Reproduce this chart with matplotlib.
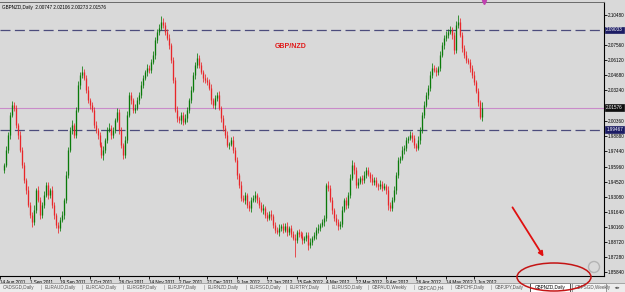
import numpy as np
import matplotlib.pyplot as plt
from matplotlib.patches import Ellipse, Rectangle

plt.rcParams['font.family'] = ['Liberation Sans', 'DejaVu Sans']

# ---- daily closes GBPNZD (one per bar) ----
closes = [
    1.9611, 1.9754, 1.9898, 2.0089, 2.0185, 2.0156, 1.9994, 1.9898, 1.9754, 1.9611,
    1.9467, 1.9372, 1.9228, 1.9132, 1.9065, 1.9180, 1.9372, 1.9276, 1.9132, 1.9228,
    1.9324, 1.9420, 1.9324, 1.9372, 1.9228, 1.9132, 1.9037, 1.9008, 1.9085, 1.9132,
    1.9276, 1.9515, 1.9754, 1.9946, 1.9994, 1.9898, 2.0137, 2.0377, 2.0472, 2.0501,
    2.0444, 2.0329, 2.0233, 2.0185, 2.0137, 1.9994, 1.9946, 1.9898, 1.9802, 1.9707,
    1.9754, 1.9850, 1.9946, 1.9965, 1.9898, 1.9946, 2.0042, 2.0118, 1.9946, 1.9802,
    1.9707, 1.9850, 2.0089, 2.0281, 2.0233, 2.0137, 2.0156, 2.0233, 2.0281, 2.0377,
    2.0444, 2.0501, 2.0539, 2.0520, 2.0597, 2.0664, 2.0807, 2.0884, 2.0922, 2.0979,
    2.0951, 2.0884, 2.0826, 2.0759, 2.0616, 2.0424, 2.0137, 2.0061, 2.0042, 2.0089,
    2.0022, 2.0061, 2.0137, 2.0233, 2.0329, 2.0472, 2.0568, 2.0635, 2.0568, 2.0501,
    2.0444, 2.0424, 2.0405, 2.0348, 2.0233, 2.0185, 2.0252, 2.0281, 2.0156, 2.0061,
    1.9965, 1.9898, 1.9802, 1.9815, 1.9850, 1.9754, 1.9659, 1.9515, 1.9420, 1.9295,
    1.9276, 1.9324, 1.9228, 1.9199, 1.9276, 1.9295, 1.9324, 1.9276, 1.9228, 1.9180,
    1.9199, 1.9132, 1.9104, 1.9142, 1.9123, 1.9037, 1.8989, 1.8970, 1.9008, 1.9027,
    1.8989, 1.9027, 1.8970, 1.9008, 1.8951, 1.8912, 1.8893, 1.8970, 1.8951, 1.8931,
    1.8893, 1.8912, 1.8941, 1.8845, 1.8874, 1.8912, 1.8941, 1.8989, 1.9008, 1.9037,
    1.9065, 1.9104, 1.9420, 1.9391, 1.9276, 1.9180, 1.9104, 1.9065, 1.9027, 1.9046,
    1.9180, 1.9276, 1.9228, 1.9324, 1.9487, 1.9611, 1.9563, 1.9420, 1.9448, 1.9487,
    1.9467, 1.9515, 1.9563, 1.9525, 1.9487, 1.9448, 1.9467, 1.9420, 1.9410, 1.9429,
    1.9391, 1.9410, 1.9372, 1.9228, 1.9199, 1.9276, 1.9372, 1.9515, 1.9659, 1.9678,
    1.9754, 1.9774, 1.9850, 1.9869, 1.9898, 1.9869, 1.9802, 1.9774, 1.9850, 1.9946,
    2.0089, 2.0185, 2.0281, 2.0348, 2.0472, 2.0539, 2.0520, 2.0501, 2.0539, 2.0664,
    2.0759, 2.0826, 2.0855, 2.0884, 2.0903, 2.0855, 2.0711, 2.0951, 2.0979, 2.0855,
    2.0731, 2.0664, 2.0616, 2.0597, 2.0539, 2.0472, 2.0405, 2.0320, 2.0210, 2.00747,
    2.01576]
first_open = 1.9560  # each later bar opens at the previous close

# wick lengths in pips above / below the candle body
wick_up = [
    20, 35, 25, 30, 40, 25, 30, 20, 35, 25, 30, 20, 40, 25, 30, 45, 20, 35, 25, 30,
    40, 25, 30, 20, 35, 25, 20, 30, 25, 35, 20, 40, 30, 25, 45, 20, 30, 35, 25, 60,
    30, 25, 35, 20, 30, 25, 40, 20, 30, 25, 35, 20, 30, 45, 25, 30, 20, 35, 25, 30,
    20, 35, 40, 25, 30, 20, 35, 25, 30, 40, 25, 20, 35, 30, 25, 40, 30, 25, 35, 60,
    40, 30, 25, 35, 20, 30, 25, 35, 20, 30, 25, 40, 30, 20, 35, 25, 30, 45, 25, 30,
    20, 35, 25, 30, 40, 20, 30, 25, 35, 20, 30, 25, 35, 20, 30, 40, 25, 30, 20, 35,
    25, 30, 20, 35, 25, 30, 40, 20, 30, 25, 35, 20, 30, 25, 40, 20, 30, 25, 35, 20,
    30, 25, 35, 20, 30, 25, 40, 20, 30, 25, 35, 20, 30, 25, 35, 20, 30, 25, 40, 20,
    30, 25, 20, 35, 25, 30, 20, 35, 25, 30, 40, 20, 30, 25, 35, 45, 30, 25, 35, 20,
    30, 40, 25, 30, 20, 35, 25, 30, 20, 35, 25, 30, 20, 35, 25, 30, 40, 25, 30, 20,
    35, 25, 30, 20, 35, 25, 30, 20, 35, 25, 30, 40, 25, 30, 35, 45, 25, 30, 20, 35,
    30, 25, 35, 30, 40, 30, 25, 35, 70, 40, 30, 25, 35, 20, 30, 25, 35, 20, 30, 25, 53]
wick_dn = [
    30, 20, 25, 35, 20, 30, 25, 40, 20, 30, 25, 35, 20, 30, 45, 25, 30, 20, 35, 25,
    30, 20, 35, 25, 30, 40, 25, 50, 30, 20, 35, 25, 30, 20, 35, 25, 30, 20, 35, 25,
    20, 30, 25, 35, 20, 30, 25, 40, 20, 30, 45, 25, 30, 20, 35, 25, 30, 20, 35, 25,
    40, 25, 30, 20, 35, 25, 30, 20, 35, 25, 30, 20, 35, 25, 30, 20, 35, 25, 30, 20,
    25, 30, 20, 35, 25, 30, 20, 35, 25, 40, 30, 20, 35, 25, 30, 20, 35, 25, 30, 20,
    35, 25, 30, 20, 35, 25, 40, 30, 20, 35, 25, 30, 20, 35, 25, 30, 20, 35, 25, 30,
    20, 35, 25, 30, 40, 20, 35, 25, 30, 20, 35, 25, 30, 20, 35, 25, 30, 20, 35, 25,
    30, 20, 35, 25, 30, 20, 160, 25, 30, 20, 35, 25, 30, 45, 25, 30, 20, 35, 25, 30,
    20, 35, 25, 30, 20, 35, 25, 30, 40, 25, 30, 20, 35, 25, 30, 20, 35, 25, 30, 20,
    35, 25, 30, 20, 35, 25, 30, 20, 35, 25, 30, 20, 35, 45, 25, 30, 20, 35, 25, 30,
    20, 35, 25, 30, 20, 35, 25, 30, 20, 35, 25, 30, 20, 35, 25, 30, 20, 35, 25, 30,
    20, 35, 25, 30, 20, 35, 40, 25, 30, 20, 35, 25, 30, 20, 35, 25, 30, 20, 35, 25, 47]

level_hi = 2.09033
level_lo = 1.99467
bid = 2.01576
header = 'GBPNZD,Daily  2.00747 2.02106 2.00273 2.01576'

date_labels = ['14 Aug 2011', '1 Sep 2011', '19 Sep 2011', '7 Oct 2011', '26 Oct 2011',
               '14 Nov 2011', '2 Dec 2011', '21 Dec 2011', '9 Jan 2012', '27 Jan 2012',
               '15 Feb 2012', '4 Mar 2012', '22 Mar 2012', '9 Apr 2012', '26 Apr 2012',
               '14 May 2012', '1 Jun 2012']
date_bars = [-2, 13, 28, 43, 58, 73, 88, 102, 117, 132, 147, 162, 177, 192, 207, 222, 236]

price_ticks = [2.10480, 2.07560, 2.06120, 2.04680, 2.03240, 2.00360, 1.98880, 1.97440,
               1.95960, 1.94520, 1.93080, 1.91640, 1.90160, 1.88720, 1.87280, 1.85840]

tabs = ['CADSGD,Daily', 'EURAUD,Daily', 'EURCAD,Daily', 'EURGBP,Daily', 'EURJPY,Daily',
        'EURNZD,Daily', 'EURSGD,Daily', 'EURTRY,Daily', 'EURUSD,Daily', 'GBPAUD,Weekly',
        'GBPCAD,H4', 'GBPCHF,Daily', 'GBPJPY,Daily', 'GBPNZD,Daily', 'GBPSGD,Weekly']
tab_x = [3, 45, 86, 127, 168, 208, 250, 290, 332, 372, 418, 455, 495, 535, 575]

assert len(closes) == len(wick_up) == len(wick_dn)

closes = np.array(closes)
opens = np.concatenate([[first_open], closes[:-1]])
highs = np.maximum(opens, closes) + np.array(wick_up) / 10000.0
lows = np.minimum(opens, closes) - np.array(wick_dn) / 10000.0
bars = np.arange(len(closes))
up = closes >= opens

W, H = 625, 292
BG = '#d9d9d9'
FS = 3.3
fig = plt.figure(figsize=(W / 100, H / 100), dpi=100)
fig.patch.set_facecolor(BG)

# main chart area: x 0..604 px, y 2..276 px
ax = fig.add_axes([0, 16 / H, 604 / W, 274 / H])
ax.set_facecolor(BG)
ax.set_xlim(-0.5, 301.5)
ax.set_ylim(1.8548, 2.1171)

# candles
col = np.where(up, '#0a7a0a', '#e8262a')
ax.vlines(bars, lows, highs, colors=col, lw=0.55, zorder=3)
ax.vlines(bars, opens, closes, colors=col, lw=0.95, zorder=3)

# levels
ax.axhline(level_hi, color='#4c4c7c', lw=0.9, dashes=(8, 3.5), zorder=2)
ax.axhline(level_lo, color='#4c4c7c', lw=0.9, dashes=(8, 3.5), zorder=2)
ax.axhline(bid, color='#c98bc9', lw=0.8, zorder=2)

# axes frame
ax.spines['left'].set_visible(False)
for s in ['right', 'bottom']:
    ax.spines[s].set_color('black')
    ax.spines[s].set_linewidth(0.8)
ax.spines['top'].set_color('#6a6a6a')
ax.spines['top'].set_linewidth(0.7)

ax.yaxis.tick_right()
ax.set_yticks(price_ticks)
ax.set_yticklabels(['%.5f' % p for p in price_ticks])
ax.tick_params(axis='y', labelsize=FS, length=2, width=0.6, pad=1, colors='black')
ax.set_xticks(date_bars)
ax.set_xticklabels(date_labels, ha='left')
ax.tick_params(axis='x', labelsize=FS, length=2, width=0.6, pad=1, colors='black')

# price boxes on the right axis
def price_box(val, fc):
    ax.annotate('%.5f' % val, xy=(1.0, val), xycoords=('axes fraction', 'data'),
                xytext=(1.6, 0), textcoords='offset points', va='center', ha='left',
                fontsize=FS, color='white', zorder=5, annotation_clip=False,
                bbox=dict(boxstyle='square,pad=0.2', fc=fc, ec=fc, lw=0.5))

price_box(level_hi, '#1c1c64')
price_box(bid, '#101010')
price_box(level_lo, '#1c1c64')

# chart shift marker
ax.plot([241], [2.1171], marker='v', ms=3, color='#c040b0', clip_on=False, zorder=6)

# header and label
fig.text(2 / W, 1 - 8 / H, header, fontsize=FS, va='center', ha='left', color='black')
fig.text(291 / W, 1 - 47 / H, 'GBP/NZD', fontsize=5, fontweight='bold', color='#e01818',
         ha='center', va='center')

# tab bar at the bottom
tab_ax = fig.add_axes([0, 0, 1, 9 / H])
tab_ax.set_xlim(0, W)
tab_ax.set_ylim(0, 9)
tab_ax.axis('off')
tab_ax.add_patch(Rectangle((0, 0), W, 9, fc='#ececec', ec='none'))
tab_ax.plot([0, W], [9, 9], color='#9a9a9a', lw=0.6)
tab_ax.add_patch(Rectangle((530, -1), 40, 10, fc='white', ec='#333333', lw=0.6))
tab_ax.add_patch(Rectangle((572, -1), 34, 10, fc='#f4f4f4', ec='#777777', lw=0.5))
for i, (t, x) in enumerate(zip(tabs, tab_x)):
    c = 'black' if t == 'GBPNZD,Daily' else '#555555'
    tab_ax.text(x, 4.5, t, fontsize=FS, color=c, va='center', ha='left')
    if 0 < i < 13:
        tab_ax.text(x - 4, 4.5, '|', fontsize=FS, color='#777777', va='center', ha='center')
tab_ax.text(613, 4.5, '\u25c4\u25ba', fontsize=2.6, color='#444444', va='center', ha='left')

# red annotation: arrow to the active tab and ellipse round it
fig.add_artist(Ellipse((554 / W, 1 - 277 / H), 74 / W, 28 / H, transform=fig.transFigure,
                       fill=False, ec='#c41414', lw=1.1, zorder=10))
ax.annotate('', xy=(545 / W, 1 - 259 / H), xytext=(511 / W, 1 - 205 / H),
            xycoords='figure fraction', textcoords='figure fraction',
            arrowprops=dict(arrowstyle='-|>', color='#e01010', lw=1.3, mutation_scale=7),
            annotation_clip=False, zorder=10)
fig.add_artist(Ellipse((594 / W, 1 - 267 / H), 11 / W, 11 / H, transform=fig.transFigure,
                       fill=False, ec='#b4b4b4', lw=1.0, zorder=9))

fig.savefig('out.png', dpi=100, facecolor=BG)
